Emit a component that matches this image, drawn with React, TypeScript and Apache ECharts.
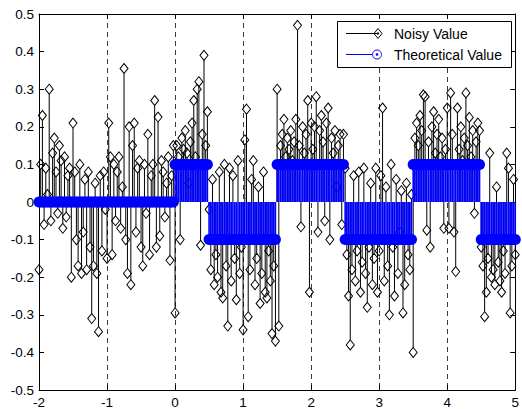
import React, { useEffect, useRef } from "react";
import * as echarts from "echarts";

// sampling grid of the stem plot
const X_START = -2;
const X_STEP = 0.025;

// theoretical square wave, read as segments
const THEORY_BREAKS = [-2, 0, 0.5, 1.5, 2.5, 3.5, 4.5, 5];
const THEORY_LEVELS = [0, 0.1, -0.1, 0.1, -0.1, 0.1, -0.1];

// noisy values, one array per unit of x (40 samples each)
const NOISY_M2 = [
  -0.18, 0.10, 0.23, -0.06, 0.09, 0.02, 0.30, -0.05, 0.13, 0.17,
  0.08, -0.03, 0.15, 0.11, -0.07, 0.12, -0.04, 0.07, 0.09, -0.20,
  0.21, 0.08, -0.10, -0.17, 0.10, -0.19, -0.08, 0.06, -0.18, 0.08,
  -0.12, -0.31, -0.17, 0.05, -0.19, -0.345, 0.07, -0.13, 0.08, -0.02,
];
const NOISY_M1 = [
  -0.15, 0.21, 0.12, -0.14, 0.10, -0.05, 0.08, 0.12, -0.07, 0.04,
  0.355, -0.10, -0.19, 0.20, -0.22, 0.15, 0.21, -0.08, 0.09, 0.11,
  -0.12, -0.17, 0.10, -0.03, 0.18, -0.14, 0.07, 0.10, 0.27, -0.12,
  0.226, -0.09, 0.11, 0.08, -0.04, 0.05, 0.12, -0.155, 0.07, 0.15,
];
const NOISY_0 = [
  -0.295, 0.15, 0.12, -0.10, 0.17, 0.14, 0.19, 0.13, 0.05, 0.16,
  0.21, 0.27, 0.12, 0.30, 0.32, -0.115, 0.18, 0.39, 0.15, 0.24,
  -0.02, -0.18, 0.06, -0.22, -0.14, -0.20, 0.08, -0.24, -0.255, 0.10,
  -0.17, -0.33, 0.09, -0.21, 0.07, -0.15, -0.26, 0.11, -0.19, -0.12,
];
const NOISY_1 = [
  -0.34, 0.165, 0.247, -0.305, -0.18, 0.06, 0.11, -0.22, -0.15, 0.04,
  -0.27, -0.19, 0.08, -0.24, -0.255, -0.13, -0.21, -0.35, -0.17, -0.37,
  0.30, -0.33, 0.15, 0.18, 0.22, 0.12, 0.17, 0.14, 0.19, 0.11,
  0.16, 0.22, 0.47, 0.15, -0.066, 0.20, 0.13, 0.18, 0.27, -0.24,
];
const NOISY_2 = [
  0.21, 0.14, 0.20, 0.28, -0.08, 0.19, 0.23, 0.16, -0.05, 0.21,
  0.25, -0.10, 0.17, 0.13, 0.19, 0.04, 0.15, 0.18, -0.06, 0.18,
  0.09, -0.14, -0.25, -0.38, -0.18, 0.07, -0.21, -0.13, 0.08, -0.24,
  -0.16, 0.09, -0.19, -0.28, -0.12, 0.05, -0.22, -0.15, 0.09, -0.24,
];
const NOISY_3 = [
  -0.13, 0.07, 0.25, -0.21, 0.04, -0.17, -0.30, 0.10, -0.12, -0.25,
  0.06, -0.19, -0.08, 0.03, -0.295, -0.22, 0.05, -0.14, -0.18, 0.02,
  -0.40, 0.17, 0.21, 0.15, 0.23, 0.19, 0.285, 0.28, -0.075, 0.16,
  -0.12, 0.20, 0.24, 0.13, 0.18, 0.22, 0.12, 0.17, -0.07, 0.14,
];
const NOISY_4 = [
  0.25, -0.07, 0.29, 0.18, -0.08, -0.185, 0.25, 0.14, 0.20, 0.11,
  0.17, 0.29, 0.15, 0.225, 0.12, 0.19, -0.03, 0.16, 0.21, 0.19,
  -0.12, -0.17, -0.305, -0.24, -0.15, 0.13, -0.20, -0.18, -0.22, 0.04,
  -0.16, -0.21, -0.24, -0.13, -0.19, 0.13, 0.09, -0.295, -0.17, 0.06,
];
const NOISY_END = [-0.14];

const X_TICKS = [-2, -1, 0, 1, 2, 3, 4, 5];
const SERIES_NAMES = ["Noisy Value", "Theoretical Value"];

const FONT = '"Liberation Sans", Arial, Helvetica, sans-serif';

export default function App() {
  const ref = useRef<HTMLDivElement>(null);

  useEffect(() => {
    if (!ref.current) return;
    const chart = echarts.init(ref.current, undefined, { renderer: "svg" });

    const noisy = [
      ...NOISY_M2, ...NOISY_M1, ...NOISY_0, ...NOISY_1,
      ...NOISY_2, ...NOISY_3, ...NOISY_4, ...NOISY_END,
    ];
    const xs = noisy.map((_, i) => Math.round((X_START + i * X_STEP) * 1000) / 1000);
    const noisyData = noisy.map((v, i) => [xs[i], v]);
    const theoryData = xs.map((x) => {
      let k = THEORY_LEVELS.length - 1;
      for (let s = 0; s < THEORY_LEVELS.length; s++) {
        if (x >= THEORY_BREAKS[s] && x < THEORY_BREAKS[s + 1]) { k = s; break; }
      }
      return [x, THEORY_LEVELS[k]];
    });

    const noisyStem = (params: any, api: any) => {
      const x = api.value(0);
      const y = api.value(1);
      const base = api.coord([x, 0]);
      const tip = api.coord([x, y]);
      const d = base[1] - tip[1];
      const gap = 5;
      const y2 = Math.abs(d) > gap ? tip[1] + Math.sign(d) * gap : base[1];
      return {
        type: "line",
        shape: { x1: base[0], y1: base[1], x2: tip[0], y2 },
        style: { stroke: "#000", lineWidth: 1 },
      };
    };

    const theoryStem = (params: any, api: any) => {
      const x = api.value(0);
      const y = api.value(1);
      const base = api.coord([x, 0]);
      const tip = api.coord([x, y]);
      return {
        type: "group",
        children: [
          {
            type: "line",
            shape: { x1: base[0], y1: base[1], x2: tip[0], y2: tip[1] },
            style: { stroke: "#0000ff", lineWidth: 1.6 },
          },
          {
            type: "circle",
            shape: { cx: tip[0], cy: tip[1], r: 5.5 },
            style: { fill: "#0000ff", stroke: "none" },
          },
        ],
      };
    };

    const axisLabel = { fontFamily: FONT, fontSize: 13.5, color: "#000" };
    const Z = 100;

    chart.setOption({
      animation: false,
      backgroundColor: "#fff",
      grid: { left: 39, right: 5, top: 14, bottom: 19, containLabel: false },
      xAxis: [
        {
          type: "value", min: -2, max: 5, interval: 1, position: "bottom",
          axisLine: { show: true, onZero: false, lineStyle: { color: "#000", width: 1 } },
          axisTick: { show: true, inside: true, length: 5, lineStyle: { color: "#000" } },
          axisLabel: { ...axisLabel, margin: 5, formatter: (v: number) => (X_TICKS.includes(v) ? String(v) : "") },
          splitLine: { show: true, lineStyle: { color: "#222", type: [5, 4], width: 0.9 } },
        },
        {
          type: "value", min: -2, max: 5, interval: 1, position: "top",
          axisLine: { show: true, onZero: false, lineStyle: { color: "#000", width: 1 } },
          axisTick: { show: true, inside: true, length: 5, lineStyle: { color: "#000" } },
          axisLabel: { show: false },
          splitLine: { show: false },
        },
      ],
      yAxis: [
        {
          type: "value", min: -0.5, max: 0.5, interval: 0.1, position: "left",
          axisLine: { show: true, onZero: false, lineStyle: { color: "#000", width: 1 } },
          axisTick: { show: true, inside: true, length: 5, lineStyle: { color: "#000" } },
          axisLabel: { ...axisLabel, margin: 5 },
          splitLine: { show: false },
        },
        {
          type: "value", min: -0.5, max: 0.5, interval: 0.1, position: "right",
          axisLine: { show: true, onZero: false, lineStyle: { color: "#000", width: 1 } },
          axisTick: { show: true, inside: true, length: 5, lineStyle: { color: "#000" } },
          axisLabel: { show: false },
          splitLine: { show: false },
        },
      ],
      series: [
        {
          name: SERIES_NAMES[0],
          type: "custom",
          xAxisIndex: 0, yAxisIndex: 0,
          renderItem: noisyStem,
          encode: { x: 0, y: 1 },
          data: noisyData,
          clip: true,
          z: 2,
        },
        {
          name: SERIES_NAMES[0],
          type: "scatter",
          xAxisIndex: 0, yAxisIndex: 0,
          symbol: "diamond",
          symbolSize: [8, 10],
          itemStyle: { color: "rgba(255,255,255,0)", borderColor: "#000", borderWidth: 1, opacity: 1 },
          data: noisyData,
          z: 3,
        },
        {
          name: SERIES_NAMES[1],
          type: "custom",
          xAxisIndex: 0, yAxisIndex: 0,
          renderItem: theoryStem,
          encode: { x: 0, y: 1 },
          data: theoryData,
          clip: false,
          z: 4,
        },
      ],
      graphic: [
        {
          type: "group",
          z: Z,
          children: [
            {
              type: "rect", z: Z,
              shape: { x: 337.5, y: 21.5, width: 174, height: 46 },
              style: { fill: "#fff", stroke: "#000", lineWidth: 1 },
            },
            {
              type: "line", z: Z + 1,
              shape: { x1: 346, y1: 33.5, x2: 378, y2: 33.5 },
              style: { stroke: "#000", lineWidth: 1 },
            },
            {
              type: "polygon", z: Z + 1,
              shape: { points: [[378, 28.5], [382, 33.5], [378, 38.5], [374, 33.5]] },
              style: { fill: "none", stroke: "#000", lineWidth: 1 },
            },
            {
              type: "rect", z: Z + 1,
              shape: { x: 377, y: 32.5, width: 2, height: 2 },
              style: { fill: "#000" },
            },
            {
              type: "text", z: Z + 1,
              x: 394, y: 33.5,
              style: {
                text: SERIES_NAMES[0], fill: "#000", font: `14px ${FONT}`,
                align: "left", verticalAlign: "middle",
              },
            },
            {
              type: "line", z: Z + 1,
              shape: { x1: 346, y1: 54.5, x2: 377, y2: 54.5 },
              style: { stroke: "#0000ff", lineWidth: 1 },
            },
            {
              type: "circle", z: Z + 1,
              shape: { cx: 377, cy: 54.5, r: 4.5 },
              style: { fill: "#fff", stroke: "#0000ff", lineWidth: 1 },
            },
            {
              type: "circle", z: Z + 2,
              shape: { cx: 377, cy: 54.5, r: 1.3 },
              style: { fill: "#0000ff" },
            },
            {
              type: "text", z: Z + 1,
              x: 394, y: 54.5,
              style: {
                text: SERIES_NAMES[1], fill: "#000", font: `14px ${FONT}`,
                align: "left", verticalAlign: "middle",
              },
            },
          ],
        },
      ],
    });

    return () => chart.dispose();
  }, []);

  return (
    <div
      ref={ref}
      style={{ position: "fixed", left: 0, top: 0, width: 522, height: 409, background: "#fff" }}
    />
  );
}
